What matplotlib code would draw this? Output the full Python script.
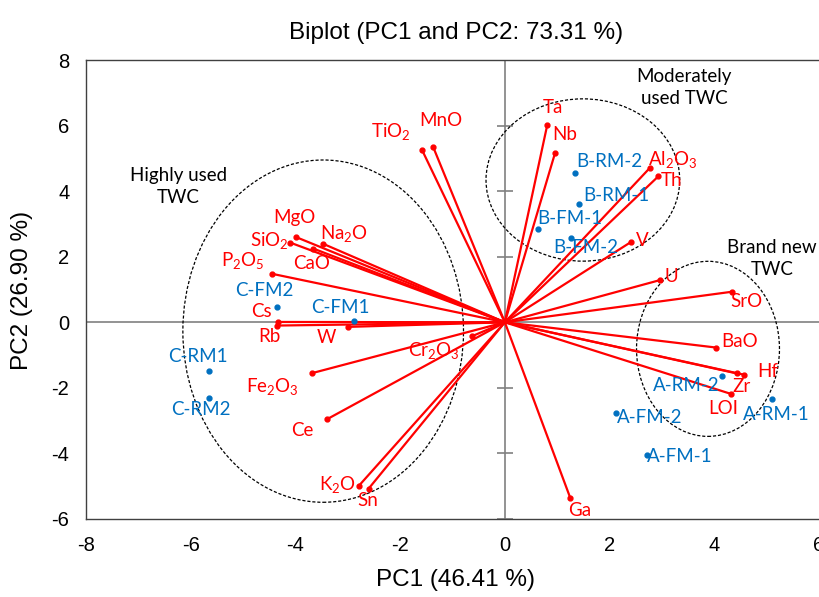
import matplotlib
matplotlib.use("Agg")
import matplotlib.pyplot as plt
from matplotlib.patches import Ellipse

plt.rcParams['font.family'] = ['Lato', 'DejaVu Sans']
plt.rcParams['mathtext.default'] = 'regular'
plt.rcParams['axes.unicode_minus'] = False

# variable loadings (red vectors)
var_names = ['TiO$_2$', 'MnO', 'MgO', 'SiO$_2$', 'Na$_2$O', 'CaO', 'P$_2$O$_5$',
             'Cs', 'Rb', 'W', 'Cr$_2$O$_3$', 'Fe$_2$O$_3$', 'Ce', 'K$_2$O', 'Sn',
             'Ta', 'Nb', 'Al$_2$O$_3$', 'Th', 'V', 'U', 'SrO', 'BaO', 'Zr', 'Hf',
             'LOI', 'Ga']
var_pc1 = [-1.58, -1.37, -3.99, -4.10, -3.48, -3.66, -4.45,
           -4.33, -4.35, -2.99, -0.62, -3.68, -3.40, -2.79, -2.60,
           0.81, 0.96, 2.77, 2.93, 2.41, 2.97, 4.33, 4.03, 4.43, 4.57,
           4.31, 1.25]
var_pc2 = [5.25, 5.35, 2.60, 2.43, 2.40, 2.25, 1.48,
           0.01, -0.10, -0.14, -0.42, -1.55, -2.96, -4.99, -5.07,
           6.02, 5.17, 4.71, 4.45, 2.45, 1.29, 0.93, -0.77, -1.56, -1.60,
           -2.18, -5.36]

# sample scores (blue points)
obs_names = ['C-FM2', 'C-FM1', 'C-RM1', 'C-RM2', 'B-RM-2', 'B-RM-1', 'B-FM-1',
             'B-FM-2', 'A-RM-2', 'A-RM-1', 'A-FM-2', 'A-FM-1']
obs_pc1 = [-4.36, -2.88, -5.65, -5.66, 1.34, 1.42, 0.64, 1.26, 4.14, 5.11, 2.13, 2.71]
obs_pc2 = [0.47, 0.03, -1.50, -2.32, 4.55, 3.61, 2.84, 2.56, -1.64, -2.34, -2.77, -4.04]

# label offsets in pixels (dx, dy)
var_off = [(-31, 19), (8, 26), (-2, 20), (-21, 2), (21, 10), (-2, -15), (-29, 13),
           (-17, 10), (-8, -11), (-22, -11), (-39, -14), (-40, -13), (-25, -11),
           (-21, 1), (-1, -12),
           (6, 17), (10, 18), (23, 8), (13, -4), (11, 1), (11, 3), (15, -10),
           (24, 6), (5, -13), (24, 3), (-7, -15), (9, -12)]
obs_off = [(-12, 16), (-14, 14), (-11, 15), (-8, -11), (34, 12), (37, 8), (31, 11),
           (15, -9), (-35, -9), (4, -15), (33, -4), (33, -2)]

red = '#ff0000'
blue = '#0070c0'
tick_font = ['Liberation Sans Narrow', 'Liberation Sans', 'DejaVu Sans']

fig = plt.figure(figsize=(8.19, 5.97), dpi=100)
ax = fig.add_axes([86 / 819, 78 / 597, 733 / 819, 459 / 597])
ax.set_xlim(-8, 6)
ax.set_ylim(-6, 8)

# zero axes, ticks only on the vertical one
ax.axhline(0, color='#808080', lw=1.2, zorder=1)
ax.axvline(0, color='#808080', lw=1.2, zorder=1)
yt = [-6, -4, -2, 2, 4, 6, 8]
ax.plot([0] * len(yt), yt, ls='none', marker='_', ms=11, mew=1.2, color='#808080', zorder=1)

# ellipses
groups = [((-3.47, -0.27), 5.36, 10.44), ((1.49, 4.34), 3.70, 4.95), ((3.88, -0.81), 2.73, 5.34)]
for c, w, h in groups:
    ax.add_patch(Ellipse(c, w, h, fill=False, ls=(0, (2.5, 1.5)), lw=0.9, color='black', zorder=2))

for name, x, y, off in zip(var_names, var_pc1, var_pc2, var_off):
    ax.plot([0, x], [0, y], color=red, lw=1.6, zorder=3)
    ax.plot(x, y, 'o', ms=3.5, color=red, zorder=4)
    ax.annotate(name, (x, y), xytext=off, textcoords='offset pixels',
                ha='center', va='center', color=red, fontsize=13.5, zorder=5)

ax.plot(obs_pc1, obs_pc2, 'o', ms=3.5, color=blue, ls='none', zorder=4)
for name, x, y, off in zip(obs_names, obs_pc1, obs_pc2, obs_off):
    ax.annotate(name, (x, y), xytext=off, textcoords='offset pixels',
                ha='center', va='center', color=blue, fontsize=13.5, zorder=5)

# group captions
ax.text(-6.24, 4.15, 'Highly used\nTWC', ha='center', va='center', fontsize=13.5, linespacing=1.35)
ax.text(3.42, 7.15, 'Moderately\nused TWC', ha='center', va='center', fontsize=13.5, linespacing=1.35)
ax.text(5.1, 1.95, 'Brand new\nTWC', ha='center', va='center', fontsize=13.5, linespacing=1.35)

ax.spines['right'].set_visible(False)
for s in ['left', 'top', 'bottom']:
    ax.spines[s].set_linewidth(1.0)
    ax.spines[s].set_color('#404040')
ax.set_xticks([-8, -6, -4, -2, 0, 2, 4, 6])
ax.set_yticks([-6, -4, -2, 0, 2, 4, 6, 8])
ax.tick_params(length=0, pad=12, labelsize=14.5)
for lab in ax.get_xticklabels() + ax.get_yticklabels():
    lab.set_family(tick_font)

fig.text(456 / 819, 1 - 33 / 597, 'Biplot (PC1 and PC2: 73.31 %)', ha='center', va='center',
         fontsize=17.5, family=tick_font[1:])
fig.text(455 / 819, 1 - 580 / 597, 'PC1 (46.41 %)', ha='center', va='center',
         fontsize=17.5, family=tick_font)
fig.text(22 / 819, 1 - 290 / 597, 'PC2 (26.90 %)', ha='center', va='center',
         rotation=90, fontsize=17.5, family=tick_font)

fig.savefig('out.png', dpi=100)
